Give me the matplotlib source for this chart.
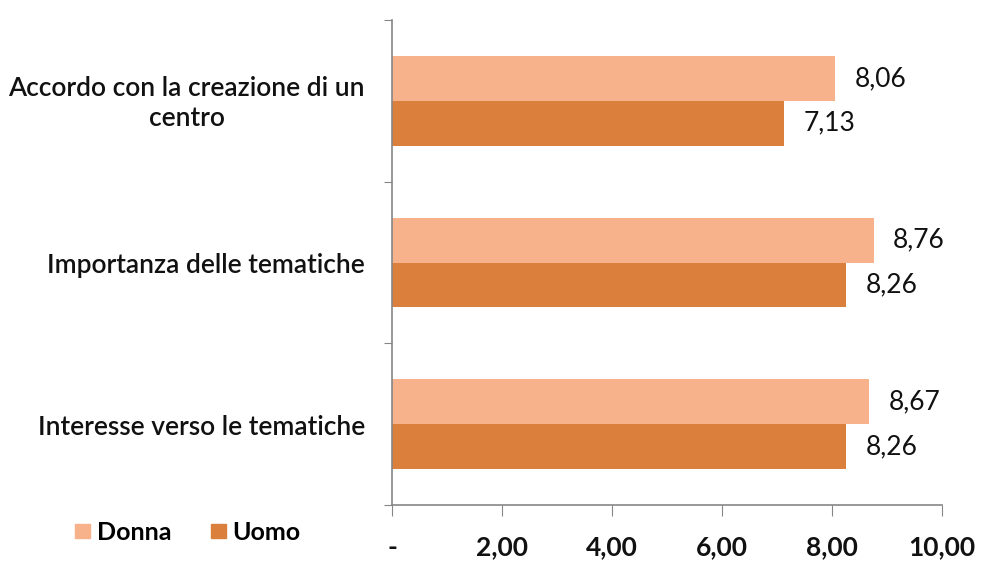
import matplotlib.pyplot as plt
import numpy as np
from matplotlib.patches import Patch

categories = [
    "Accordo con la creazione di un\ncentro",
    "Importanza delle tematiche",
    "Interesse verso le tematiche",
]
donna = [8.06, 8.76, 8.67]
uomo = [7.13, 8.26, 8.26]
x_ticks = [0, 2, 4, 6, 8, 10]
x_tick_labels = ["-", "2,00", "4,00", "6,00", "8,00", "10,00"]

DONNA_COLOR = "#F7B18B"
UOMO_COLOR = "#DA803C"
AXIS_COLOR = "#868686"

plt.rcParams["font.family"] = ["Lato", "DejaVu Sans"]

fig = plt.figure(figsize=(9.81, 5.63), dpi=100)
ax = fig.add_axes([392 / 981, 1 - 505 / 563, 550 / 981, 485 / 563])

pos = np.arange(len(categories))
h = 0.278
ax.barh(pos - h / 2, donna, height=h, color=DONNA_COLOR, label="Donna")
ax.barh(pos + h / 2, uomo, height=h, color=UOMO_COLOR, label="Uomo")

for p, d, u in zip(pos, donna, uomo):
    ax.annotate(f"{d:.2f}".replace(".", ","), (d, p - h / 2), xytext=(14, 0),
                textcoords="offset points", va="center", ha="left",
                fontsize=19, color="#111111")
    ax.annotate(f"{u:.2f}".replace(".", ","), (u, p + h / 2), xytext=(14, 0),
                textcoords="offset points", va="center", ha="left",
                fontsize=19, color="#111111")

ax.set_xlim(0, 10)
ax.set_ylim(2.5, -0.5)
ax.set_xticks(x_ticks)
ax.set_xticklabels(x_tick_labels, fontsize=19, fontweight="bold", color="#111111")

# boundary ticks between categories, labels drawn as text
ax.set_yticks([-0.5, 0.5, 1.5, 2.5])
ax.set_yticklabels([])
trans = ax.get_yaxis_transform()
for p, cat in zip(pos, categories):
    ax.annotate(cat, (0, p), xycoords=trans, xytext=(-27, -3),
                textcoords="offset pixels", ha="right", va="center",
                multialignment="center", linespacing=1.25,
                fontsize=19, fontweight="semibold", color="#111111")

ax.tick_params(axis="y", which="major", length=6, color=AXIS_COLOR, direction="out")
ax.tick_params(axis="x", length=8, color=AXIS_COLOR, direction="out", pad=14)

for side in ["top", "right"]:
    ax.spines[side].set_visible(False)
for side in ["left", "bottom"]:
    ax.spines[side].set_color(AXIS_COLOR)
    ax.spines[side].set_linewidth(1.2)

handles = [Patch(color=DONNA_COLOR), Patch(color=UOMO_COLOR)]
fig.legend(handles, ["Donna", "Uomo"], loc="center left",
           bbox_to_anchor=(75 / 981, 1 - 532 / 563), ncol=2, frameon=False,
           prop={"size": 18, "weight": "bold"}, handlelength=0.6,
           handleheight=0.48, handletextpad=0.28, columnspacing=1.56,
           borderpad=0, borderaxespad=0)

fig.savefig("out.png", dpi=100)
